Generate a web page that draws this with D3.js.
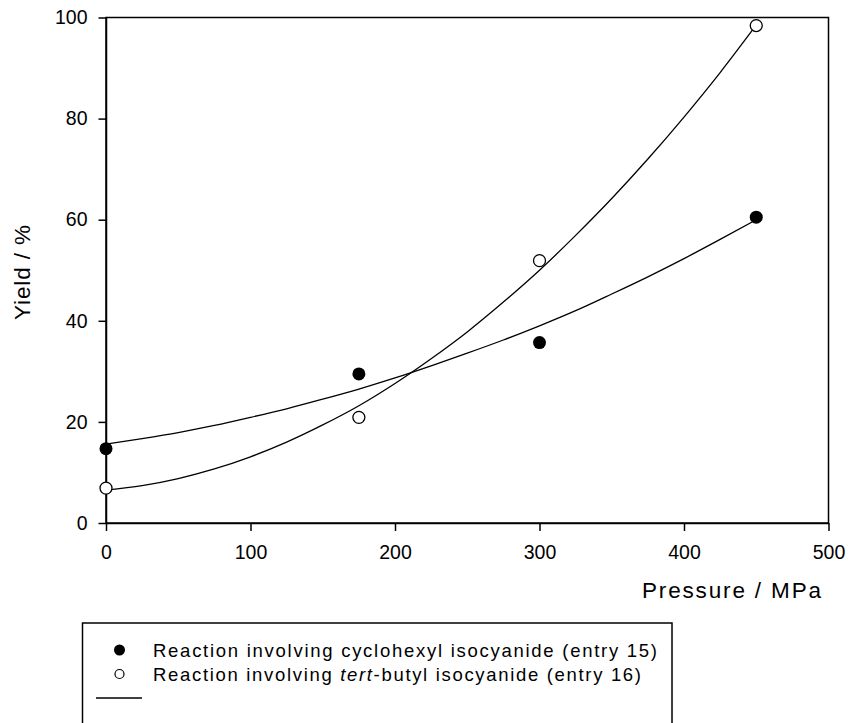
<!DOCTYPE html>
<html>
<head>
<meta charset="utf-8">
<script src="https://cdn.jsdelivr.net/npm/d3@7"></script>
<style>
  body { margin: 0; background: #fff; }
  svg { display: block; font-family: "Liberation Sans", Arial, Helvetica, sans-serif; }
</style>
</head>
<body>
<script>
// measured points
const pressure = [0, 175, 300, 450];
const yieldCyclohexyl = [14.7, 29.5, 35.7, 60.5];
const yieldTertButyl = [6.9, 20.9, 51.9, 98.4];

// fitted curves, every 25 MPa
const curveP = [0, 25, 50, 75, 100, 125, 150, 175, 200, 225, 250, 275, 300, 325, 350, 375, 400, 425, 450];
const curveCyclohexyl = [15.6, 16.7, 17.9, 19.3, 20.9, 22.6, 24.5, 26.5, 28.7, 31.1, 33.6, 36.2, 39.0, 42.0, 45.3, 48.7, 52.3, 56.1, 60.0];
const curveTertButyl = [6.5, 7.4, 8.8, 10.7, 13.1, 16.0, 19.4, 23.2, 27.6, 32.5, 37.8, 43.7, 50.0, 56.9, 64.2, 72.0, 80.3, 89.1, 98.5];

const xTicks = [0, 100, 200, 300, 400, 500];
const yTicks = [0, 20, 40, 60, 80, 100];
const legendLabels = ["Reaction involving cyclohexyl isocyanide (entry 15)", "Reaction involving tert-butyl isocyanide (entry 16)"];

const width = 848, height = 723;
const plotL = 106, plotR = 828.5, plotT = 17.5, plotB = 523;

const svg = d3.select("body").append("svg")
  .attr("width", width)
  .attr("height", height);

const x = d3.scaleLinear().domain([0, 500]).range([plotL, plotR]);
const y = d3.scaleLinear().domain([0, 100]).range([plotB, plotT]);

// frame
svg.append("rect")
  .attr("x", plotL).attr("y", plotT)
  .attr("width", plotR - plotL).attr("height", plotB - plotT)
  .attr("fill", "none").attr("stroke", "#000").attr("stroke-width", 1.5);

const xAxis = svg.append("g")
  .attr("transform", `translate(0,${plotB})`)
  .call(d3.axisBottom(x).tickValues(xTicks).tickSizeOuter(0).tickSizeInner(8).tickPadding(14));
const yAxis = svg.append("g")
  .attr("transform", `translate(${plotL},0)`)
  .call(d3.axisLeft(y).tickValues(yTicks).tickSizeOuter(0).tickSizeInner(7.5).tickPadding(11));

[xAxis, yAxis].forEach(g => {
  g.select(".domain").attr("stroke", "#000").attr("stroke-width", 1.5);
  g.selectAll(".tick line").attr("stroke", "#000").attr("stroke-width", 1.5);
  g.selectAll(".tick text")
    .attr("fill", "#000")
    .style("font-family", "'Liberation Sans', Arial, sans-serif")
    .style("font-size", "19.5px");
});

// curves
const line = d3.line()
  .x((d, i) => x(curveP[i]))
  .y(d => y(d))
  .curve(d3.curveMonotoneX);

[curveCyclohexyl, curveTertButyl].forEach(c => {
  svg.append("path")
    .attr("d", line(c))
    .attr("fill", "none")
    .attr("stroke", "#000")
    .attr("stroke-width", 1.3);
});

// points
svg.selectAll(".pt-filled")
  .data(yieldCyclohexyl)
  .join("circle")
  .attr("cx", (d, i) => x(pressure[i]))
  .attr("cy", d => y(d))
  .attr("r", 6.5)
  .attr("fill", "#000");

svg.selectAll(".pt-open")
  .data(yieldTertButyl)
  .join("circle")
  .attr("cx", (d, i) => x(pressure[i]))
  .attr("cy", d => y(d))
  .attr("r", 6)
  .attr("fill", "#fff")
  .attr("stroke", "#000")
  .attr("stroke-width", 1.3);

// axis titles
svg.append("text")
  .attr("x", 642).attr("y", 598)
  .attr("textLength", 179).attr("lengthAdjust", "spacing")
  .style("font-size", "22.5px")
  .text("Pressure / MPa");

svg.append("text")
  .attr("transform", "translate(30,272.5) rotate(-90)")
  .attr("text-anchor", "middle")
  .attr("textLength", 95).attr("lengthAdjust", "spacing")
  .style("font-size", "22.5px")
  .text("Yield / %");

// legend
const lg = svg.append("g");
lg.append("rect")
  .attr("x", 82.5).attr("y", 623)
  .attr("width", 589.5).attr("height", 140)
  .attr("fill", "none").attr("stroke", "#000").attr("stroke-width", 1.5);

const rowY = [650, 674, 698];
lg.append("circle").attr("cx", 119.5).attr("cy", rowY[0]).attr("r", 5.5).attr("fill", "#000");
lg.append("circle").attr("cx", 119.5).attr("cy", rowY[1]).attr("r", 4.5)
  .attr("fill", "#fff").attr("stroke", "#000").attr("stroke-width", 1.2);
lg.append("line").attr("x1", 96).attr("x2", 142).attr("y1", rowY[2]).attr("y2", rowY[2])
  .attr("stroke", "#000").attr("stroke-width", 1.3);

lg.append("text")
  .attr("x", 153).attr("y", rowY[0] + 6.5)
  .attr("textLength", 504).attr("lengthAdjust", "spacing")
  .style("font-size", "18.5px")
  .text(legendLabels[0]);

const t2 = lg.append("text")
  .attr("x", 153).attr("y", rowY[1] + 6.5)
  .attr("textLength", 488).attr("lengthAdjust", "spacing")
  .style("font-size", "18.5px");
t2.append("tspan").text("Reaction involving ");
t2.append("tspan").style("font-style", "italic").text("tert");
t2.append("tspan").text("-butyl isocyanide (entry 16)");
</script>
</body>
</html>
